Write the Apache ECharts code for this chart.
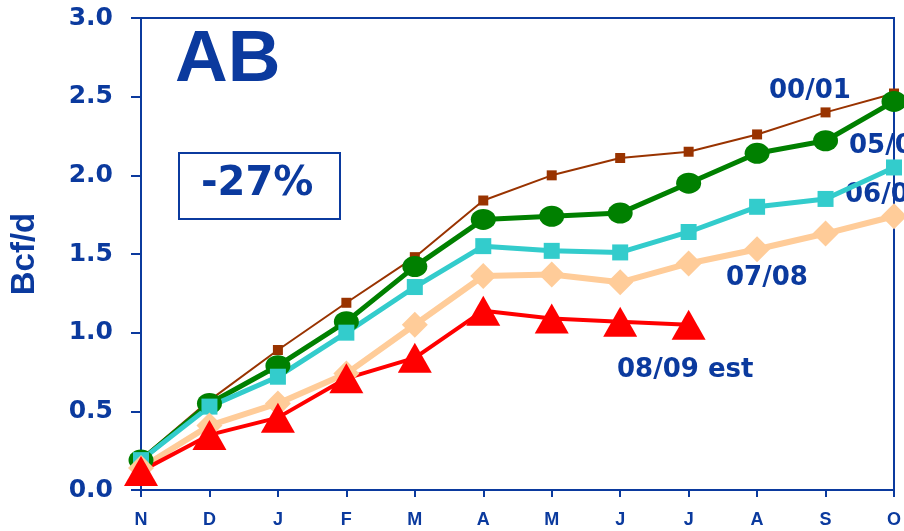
<!DOCTYPE html>
<html>
<head>
<meta charset="utf-8">
<script src="https://cdn.jsdelivr.net/npm/echarts@6/dist/echarts.min.js"></script>
<style>
  html, body { margin: 0; padding: 0; background: #fff; }
  #chart { width: 904px; height: 531px; }
</style>
</head>
<body>
<div id="chart"></div>
<script>
// months, Nov -> Oct
const months = ['N', 'D', 'J', 'F', 'M', 'A', 'M', 'J', 'J', 'A', 'S', 'O']
const yTicks = [0, 0.5, 1.0, 1.5, 2.0, 2.5, 3.0]

const s0001 = [0.20, 0.57, 0.89, 1.19, 1.48, 1.84, 2.00, 2.11, 2.15, 2.26, 2.40, 2.52]
const s0506 = [0.19, 0.55, 0.79, 1.07, 1.42, 1.72, 1.74, 1.76, 1.95, 2.14, 2.22, 2.47]
const s0607 = [0.19, 0.53, 0.72, 1.00, 1.29, 1.55, 1.52, 1.51, 1.64, 1.80, 1.85, 2.05]
const s0708 = [0.14, 0.41, 0.55, 0.74, 1.05, 1.36, 1.37, 1.32, 1.44, 1.53, 1.63, 1.74]
const s0809 = [0.12, 0.35, 0.46, 0.71, 0.84, 1.14, 1.09, 1.07, 1.05]

const navy = '#0b3a9e'

let myChart = echarts.init(document.getElementById('chart'))

const lbl = (text, x, y) => ({
  type: 'text',
  left: x,
  top: y,
  style: { text: text, fill: navy, font: 'bold 26px "DejaVu Sans"' },
})

myChart.setOption({
  animation: false,
  grid: {
    left: 140,
    top: 18,
    right: 8,
    bottom: 41,
    show: true,
    borderColor: navy,
    borderWidth: 2,
  },
  xAxis: {
    type: 'category',
    data: months,
    boundaryGap: false,
    axisLine: { lineStyle: { color: navy, width: 2 } },
    axisTick: { show: true, length: 7, lineStyle: { color: navy, width: 2 } },
    axisLabel: {
      color: navy,
      fontSize: 18,
      fontWeight: 'bold',
      fontFamily: 'Liberation Sans',
      margin: 21,
    },
    splitLine: { show: false },
  },
  yAxis: {
    type: 'value',
    min: 0,
    max: 3,
    interval: 0.5,
    name: 'Bcf/d',
    nameLocation: 'middle',
    nameGap: 100,
    nameRotate: 90,
    nameTextStyle: { color: navy, fontSize: 33, fontWeight: 'bold', fontFamily: 'Liberation Sans' },
    axisLine: { show: true, lineStyle: { color: navy, width: 2 } },
    axisTick: { show: true, length: 10, lineStyle: { color: navy, width: 2 } },
    axisLabel: {
      color: navy,
      fontSize: 25,
      fontWeight: 'bold',
      fontFamily: 'DejaVu Sans',
      margin: 28,
      formatter: (v) => yTicks.includes(v) ? v.toFixed(1) : '',
    },
    splitLine: { show: false },
  },
  series: [
    {
      name: '00/01',
      type: 'line',
      data: s0001,
      symbol: 'rect',
      symbolSize: 10,
      lineStyle: { color: '#993300', width: 2 },
      itemStyle: { color: '#993300' },
    },
    {
      name: '05/06',
      type: 'line',
      data: s0506,
      symbol: 'circle',
      symbolSize: [25, 21],
      lineStyle: { color: '#008000', width: 5 },
      itemStyle: { color: '#008000' },
    },
    {
      name: '06/07',
      type: 'line',
      data: s0607,
      symbol: 'rect',
      symbolSize: 16,
      lineStyle: { color: '#33CCCC', width: 5 },
      itemStyle: { color: '#33CCCC' },
    },
    {
      name: '07/08',
      type: 'line',
      data: s0708,
      symbol: 'diamond',
      symbolSize: [26, 26],
      lineStyle: { color: '#FFCC99', width: 6 },
      itemStyle: { color: '#FFCC99' },
    },
    {
      name: '08/09 est',
      type: 'line',
      data: s0809,
      symbol: 'triangle',
      symbolSize: [34, 30],
      lineStyle: { color: '#FF0000', width: 4 },
      itemStyle: { color: '#FF0000' },
    },
  ],
  graphic: [
    {
      type: 'text',
      left: 175,
      top: 24,
      style: { text: 'AB', fill: navy, font: 'bold 73px "Liberation Sans"' },
    },
    {
      type: 'rect',
      shape: { x: 179, y: 153, width: 161, height: 66 },
      style: { fill: 'none', stroke: navy, lineWidth: 2 },
    },
    {
      type: 'text',
      left: 201,
      top: 165,
      style: { text: '-27%', fill: navy, font: 'bold 40px "DejaVu Sans"' },
    },
    lbl('00/01', 769, 78),
    lbl('05/06', 849, 133),
    lbl('06/07', 845, 182),
    lbl('07/08', 726, 265),
    lbl('08/09 est', 617, 357),
  ],
})
</script>
</body>
</html>
